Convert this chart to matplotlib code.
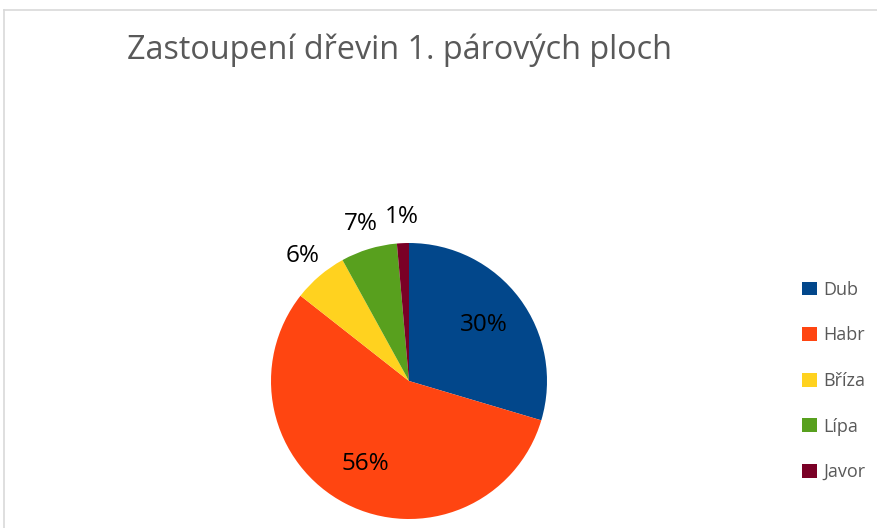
import matplotlib
matplotlib.use("Agg")
import matplotlib.pyplot as plt
from matplotlib.lines import Line2D
import numpy as np

plt.rcParams['font.family'] = ['Open Sans', 'DejaVu Sans']

# data
species = ['Dub', 'Habr', 'Bříza', 'Lípa', 'Javor']
shares = [29.6, 56.0, 6.4, 6.6, 1.4]
colors = ['#02478B', '#FF4511', '#FFD21F', '#58A01E', '#7A0026']
title = 'Zastoupení dřevin 1. párových ploch'

W, H = 878, 528
fig = plt.figure(figsize=(W / 100, H / 100), dpi=100)

# chart frame (runs off the right and bottom edge like the screenshot)
fig.add_artist(Line2D([4 / W, 1], [1 - 10 / H, 1 - 10 / H], color='#D9D9D9', lw=1.2))
fig.add_artist(Line2D([4 / W, 4 / W], [0, 1 - 10 / H], color='#D9D9D9', lw=1.2))

fig.text(127 / W, 1 - 50 / H, title, fontsize=23.3, color='#595959', va='center', ha='left')

r = 138
cx, cy = 409, 381
ax = fig.add_axes([(cx - r) / W, (H - cy - r) / H, 2 * r / W, 2 * r / H])
wedges, texts, autotexts = ax.pie(shares, colors=colors, startangle=90, counterclock=False,
                                  autopct='%.0f%%', pctdistance=0.68,
                                  wedgeprops=dict(linewidth=0),
                                  textprops=dict(fontsize=17.5, color='black'))
ax.set_xlim(-1, 1)
ax.set_ylim(-1, 1)
ax.set_aspect('equal')
ax.axis('off')

# small slices get their labels outside
for w, t in zip(wedges, autotexts):
    t.set_clip_on(False)
    if w.theta2 - w.theta1 < 40:
        mid = np.deg2rad((w.theta1 + w.theta2) / 2)
        t.set_position((1.19 * np.cos(mid), 1.19 * np.sin(mid)))

fig.legend(wedges, species, loc='center left', bbox_to_anchor=(786 / W, 1 - 381 / H),
           frameon=False, handlelength=0.8, handleheight=0.8, handletextpad=0.35,
           labelspacing=1.53, fontsize=13, labelcolor='#595959')

fig.savefig('out.png', dpi=100)
